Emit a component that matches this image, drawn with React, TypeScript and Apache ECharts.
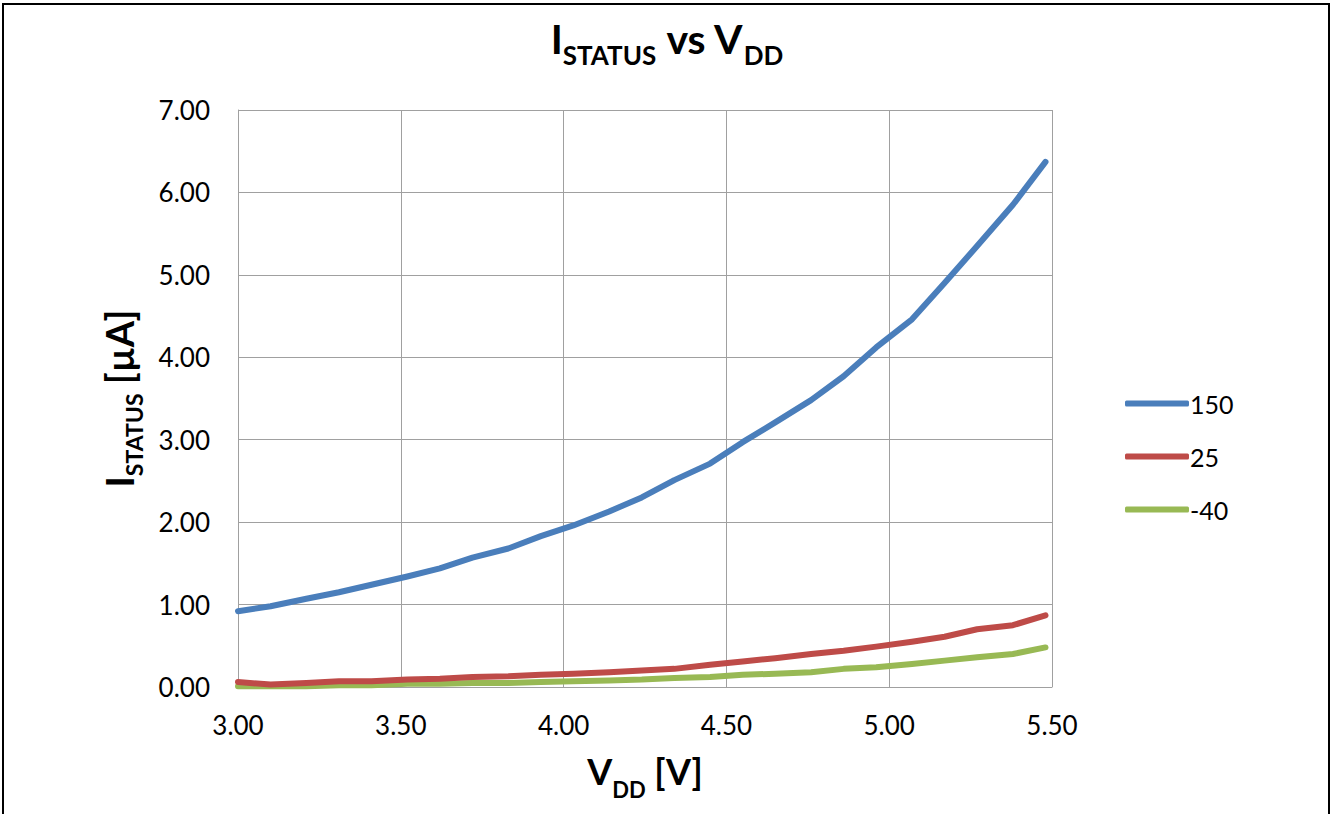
import React, { useEffect, useRef } from "react";
import * as echarts from "echarts";

const vdd = [3.0, 3.1, 3.21, 3.31, 3.41, 3.52, 3.62, 3.72, 3.83, 3.93, 4.03, 4.14, 4.24, 4.34, 4.45, 4.55, 4.65, 4.76, 4.86, 4.96, 5.07, 5.17, 5.27, 5.38, 5.48];
const s150 = [0.92, 0.98, 1.07, 1.15, 1.24, 1.34, 1.44, 1.57, 1.68, 1.83, 1.96, 2.13, 2.3, 2.51, 2.71, 2.97, 3.21, 3.48, 3.77, 4.12, 4.46, 4.9, 5.35, 5.85, 6.37];
const s25 = [0.06, 0.03, 0.05, 0.07, 0.07, 0.09, 0.1, 0.12, 0.13, 0.15, 0.16, 0.18, 0.2, 0.22, 0.27, 0.31, 0.35, 0.4, 0.44, 0.49, 0.55, 0.61, 0.7, 0.75, 0.87];
const sM40 = [0.01, 0.01, 0.01, 0.02, 0.02, 0.04, 0.04, 0.05, 0.05, 0.06, 0.07, 0.08, 0.09, 0.11, 0.12, 0.15, 0.16, 0.18, 0.22, 0.24, 0.28, 0.32, 0.36, 0.4, 0.48];
const seriesNames = ["150", "25", "-40"];
const seriesColors = ["#4a7ebb", "#be4b48", "#98b954"];

const FONT = "Lato, 'Open Sans', sans-serif";

export default function App() {
  const ref = useRef<HTMLDivElement>(null);
  useEffect(() => {
    if (!ref.current) return;
    const chart = echarts.init(ref.current, null, { renderer: "svg" });
    const data = [s150, s25, sM40];
    const xNameRich = {
      a: { fontSize: 36, fontWeight: "bold", color: "#000", fontFamily: FONT, verticalAlign: "bottom", lineHeight: 42 },
      b: { fontSize: 22, fontWeight: "bold", color: "#000", fontFamily: FONT, verticalAlign: "bottom", lineHeight: 30, padding: [0, 0, -11, 0] },
    };
    const yNameRich = {
      a: { fontSize: 38, fontWeight: "bold", color: "#000", fontFamily: FONT, verticalAlign: "bottom", lineHeight: 44 },
      b: { fontSize: 23, fontWeight: "bold", color: "#000", fontFamily: FONT, verticalAlign: "bottom", lineHeight: 30, padding: [0, 0, -7, 0] },
    };
    chart.setOption({
      animation: false,
      backgroundColor: "#ffffff",
      textStyle: { fontFamily: FONT },
      title: {
        text: "{a|I}{b|STATUS}{a| vs V}{b|DD}",
        left: 662,
        textAlign: "center",
        top: 8,
        textStyle: {
          rich: {
            a: { fontSize: 41, fontWeight: "bold", color: "#000", fontFamily: FONT, verticalAlign: "bottom", lineHeight: 46 },
            b: { fontSize: 26, fontWeight: "bold", color: "#000", fontFamily: FONT, verticalAlign: "bottom", lineHeight: 32, padding: [0, 0, -9, 0] },
          },
        },
      },
      grid: { left: 238, top: 110, width: 814, height: 577, containLabel: false, outerBoundsMode: "none" },
      legend: {
        orient: "vertical",
        left: 1120,
        top: 386,
        itemWidth: 64,
        itemHeight: 6,
        itemGap: 28,
        icon: "roundRect",
        textStyle: { fontSize: 25, color: "#000", fontFamily: FONT, padding: [0, 0, 0, -4] },
        data: seriesNames.map((n, i) => ({ name: n, itemStyle: { color: seriesColors[i] } })),
      },
      xAxis: {
        type: "value",
        min: 3.0,
        max: 5.5,
        interval: 0.5,
        axisLine: { show: true, lineStyle: { color: "#a0a0a0", width: 1 } },
        axisTick: { show: false },
        splitLine: { show: true, lineStyle: { color: "#a0a0a0", width: 1 } },
        axisLabel: { fontSize: 26, color: "#000", margin: 25, formatter: (v: number) => v.toFixed(2), fontFamily: FONT },
        name: "{a|V}{b|DD}{a| [V]}",
        nameLocation: "middle",
        nameGap: 60,
        nameTextStyle: { rich: xNameRich },
      },
      yAxis: {
        type: "value",
        min: 0,
        max: 7,
        interval: 1,
        axisLine: { show: true, lineStyle: { color: "#a0a0a0", width: 1 } },
        axisTick: { show: false },
        splitLine: { show: true, lineStyle: { color: "#a0a0a0", width: 1 } },
        axisLabel: { fontSize: 26, color: "#000", margin: 28, formatter: (v: number) => v.toFixed(2), fontFamily: FONT },
        name: "{a|I}{b|STATUS}{a| [µA]}",
        nameLocation: "middle",
        nameGap: 100,
        nameRotate: 90,
        nameTextStyle: { rich: yNameRich },
      },
      series: data.map((d, i) => ({
        name: seriesNames[i],
        type: "line",
        data: vdd.map((x, j) => [x, d[j]]),
        showSymbol: false,
        symbol: "none",
        lineStyle: { color: seriesColors[i], width: 6, cap: "round", join: "round" },
        itemStyle: { color: seriesColors[i] },
        z: 3 - i,
      })),
      graphic: [
        {
          type: "rect",
          shape: { x: 3, y: 4, width: 1326, height: 840 },
          style: { fill: "none", stroke: "#000", lineWidth: 2 },
          silent: true,
        },
      ],
    });
    return () => chart.dispose();
  }, []);
  return (
    <div
      ref={ref}
      style={{ position: "fixed", left: 0, top: 0, width: 1333, height: 814 }}
    />
  );
}
